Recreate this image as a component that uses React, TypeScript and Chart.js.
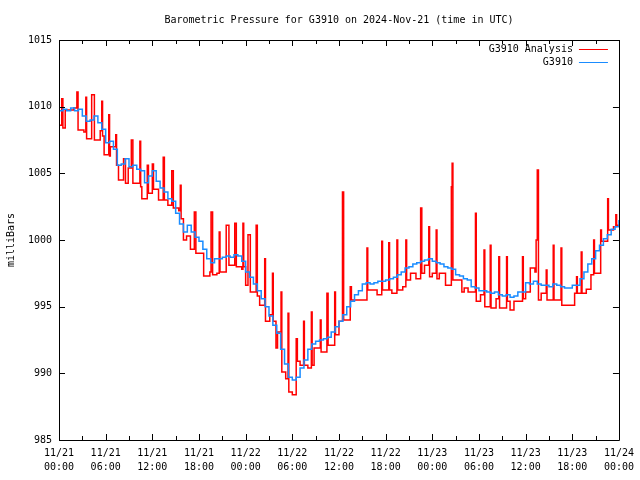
import { useEffect, useRef } from "react";
import { Chart, registerables } from "chart.js";

Chart.register(...registerables);

const TITLE = "Barometric Pressure for G3910 on 2024-Nov-21 (time in UTC)";
const Y_TITLE = "milliBars";
const ANALYSIS_NAME = "G3910 Analysis";
const OBS_NAME = "G3910";

// x axis: hours since 11/21 00:00 UTC
const X_TICK_HOURS = [0, 3, 6, 9, 12, 15, 18, 21, 24, 27, 30, 33, 36, 39, 42, 45, 48, 51, 54, 57, 60, 63, 66, 69, 72];
const X_LABEL_HOURS = [0, 6, 12, 18, 24, 30, 36, 42, 48, 54, 60, 66, 72];
const X_LABEL_DATES = ["11/21", "11/21", "11/21", "11/21", "11/22", "11/22", "11/22", "11/22", "11/23", "11/23", "11/23", "11/23", "11/24"];
const X_LABEL_TIMES = ["00:00", "06:00", "12:00", "18:00", "00:00", "06:00", "12:00", "18:00", "00:00", "06:00", "12:00", "18:00", "00:00"];
const Y_TICKS = [985, 990, 995, 1000, 1005, 1010, 1015];

// Observed pressure (G3910), every half hour from 11/21 00:00
const OBS_STEP_HOURS = 0.5;
const obsValues = [
  1009.7, 1009.8, 1009.7, 1009.9, 1009.7, 1009.8, 1009.3, 1008.9, 1009.0, 1009.3,
  1008.8, 1008.3, 1007.3, 1007.4, 1006.8, 1005.6, 1005.7, 1006.1, 1005.5, 1005.6,
  1005.3, 1005.2, 1004.3, 1004.8, 1005.2, 1004.4, 1003.9, 1003.6, 1003.1, 1002.9,
  1002.0, 1001.2, 1000.6, 1001.1, 1000.6, 1000.2, 999.9, 999.3, 998.6, 998.3,
  998.6, 998.6, 998.7, 998.8, 998.7, 998.9, 998.8, 998.4, 997.6, 997.2,
  996.7, 996.2, 995.6, 995.0, 994.3, 993.6, 993.0, 991.8, 990.7, 989.7,
  989.5, 989.7, 990.4, 991.0, 991.8, 992.2, 992.4, 992.5, 992.6, 992.7,
  993.1, 993.5, 993.9, 994.4, 995.0, 995.4, 995.9, 996.2, 996.7, 996.8,
  996.7, 996.8, 996.9, 996.9, 997.0, 997.1, 997.2, 997.4, 997.6, 997.9,
  998.0, 998.2, 998.3, 998.4, 998.5, 998.6, 998.4, 998.3, 998.2, 998.0,
  997.9, 997.8, 997.4, 997.3, 997.1, 997.0, 996.5, 996.4, 996.2, 996.2,
  996.1, 996.0, 996.1, 995.9, 995.8, 995.9, 995.7, 995.8, 996.1, 996.1,
  996.8, 996.7, 996.9, 996.7, 996.6, 996.6, 996.5, 996.7, 996.6, 996.5,
  996.4, 996.4, 996.6, 996.6, 997.1, 997.6, 998.2, 998.6, 999.2, 999.6,
  1000.1, 1000.4, 1000.8, 1001.0, 1001.5,
];

// Analysis pressure (G3910 Analysis): [hour, millibars], step-wise
const analysisPoints: [number, number][] = [
  [0, 1008.6], [0.35, 1010.6], [0.5, 1008.4], [0.8, 1009.75], [1.9, 1009.9], [2.3, 1011.1], [2.45, 1008.25],
  [3.2, 1008.1], [3.45, 1010.7], [3.55, 1007.6], [4.2, 1010.9], [4.55, 1007.5], [5.3, 1008.2], [5.5, 1010.4],
  [5.6, 1007.8], [5.8, 1006.4], [6.4, 1009.4], [6.5, 1006.3], [6.6, 1007.0], [7.3, 1007.9], [7.4, 1005.6],
  [7.65, 1004.5], [8.3, 1006.1], [8.55, 1004.25], [8.9, 1005.4], [9.3, 1007.5], [9.5, 1004.25], [10.4, 1007.4],
  [10.5, 1004.0], [10.65, 1003.1], [11.35, 1005.6], [11.5, 1003.5],
  [12.0, 1005.7], [12.15, 1003.8], [12.8, 1003.0], [13.4, 1006.2], [13.55, 1003.0], [14.0, 1002.6], [14.5, 1005.2],
  [14.7, 1002.4], [15.4, 1002.2], [15.6, 1004.1], [15.7, 1001.6], [16.0, 1000.0], [16.4, 1000.3], [16.9, 999.3],
  [17.4, 1002.1], [17.6, 999.0], [18.6, 997.3], [19.4, 997.6], [19.55, 1002.1], [19.75, 997.4], [20.3, 997.5],
  [20.6, 1000.6], [20.7, 997.6], [21.5, 1001.1], [21.85, 998.1], [22.6, 1001.25], [22.8, 998.0], [23.5, 997.8],
  [23.65, 1001.25], [23.75, 998.0],
  [24.0, 996.6], [24.3, 1000.4], [24.6, 996.1], [25.35, 1001.1], [25.5, 995.8], [25.8, 995.1], [26.45, 998.6],
  [26.55, 993.9], [27.1, 994.4], [27.45, 997.5], [27.55, 993.9], [27.9, 991.9], [28.1, 993.1], [28.55, 996.1],
  [28.65, 990.1], [29.15, 989.6], [29.45, 994.5], [29.55, 988.6], [30.0, 988.4], [30.5, 992.6], [30.65, 990.9],
  [31.0, 990.6], [31.45, 993.9], [31.55, 990.6], [32.0, 990.4], [32.45, 994.6], [32.55, 990.6], [32.8, 991.9],
  [33.6, 994.0], [33.7, 991.6], [34.45, 996.0], [34.6, 992.1], [35.45, 996.1], [35.55, 992.9], [36.0, 993.9],
  [36.45, 1003.6], [36.6, 994.0], [37.45, 996.5], [37.6, 995.5], [39.6, 999.4], [39.7, 996.25], [40.9, 995.9],
  [41.5, 999.9], [41.6, 996.25], [42.4, 999.8], [42.5, 996.25], [42.8, 996.0], [43.45, 1000.0], [43.55, 996.25],
  [44.2, 996.5], [44.6, 1000.0], [44.7, 997.0], [45.2, 997.5], [45.9, 997.1], [46.5, 1002.4], [46.65, 997.5],
  [47.0, 998.1], [47.55, 1001.0], [47.65, 997.25],
  [48.0, 997.5], [48.5, 1000.75], [48.6, 997.1], [48.9, 997.5], [49.7, 996.6], [50.45, 1004.0], [50.55, 1005.75],
  [50.65, 997.0], [51.8, 996.1], [52.1, 996.4], [52.6, 996.1], [53.55, 1002.0], [53.65, 995.4], [54.2, 995.9],
  [54.65, 999.25], [54.75, 995.0], [55.45, 999.6], [55.55, 994.9], [56.2, 995.6], [56.55, 998.75], [56.65, 994.9],
  [57.55, 998.75], [57.65, 995.4], [58.0, 994.75], [58.5, 995.4], [59.6, 998.75], [59.7, 995.6],
  [60.0, 996.1], [60.6, 997.9], [61.2, 997.6], [61.35, 1000.0], [61.5, 1005.25], [61.65, 995.5], [62.0, 996.0],
  [62.65, 997.75], [62.75, 995.5], [63.55, 999.6], [63.65, 995.5], [64.55, 999.4], [64.65, 995.1], [66.3, 996.0],
  [66.55, 997.25], [66.65, 996.0], [67.15, 999.1], [67.25, 996.0], [67.8, 996.3], [68.4, 997.4], [68.75, 1000.0],
  [68.85, 997.5], [69.65, 1000.75], [69.75, 999.9], [70.55, 1003.1], [70.65, 1000.75], [71.3, 1001.0],
  [71.6, 1001.9], [71.7, 1001.1], [72, 1001.0],
];

const RED = "#ff0000";
const BLUE = "#1a8cff";
const FONT_FAMILY = "'DejaVu Sans Mono', 'Liberation Mono', monospace";
const FONT_SIZE = 10;

const framePlugin = {
  id: "gnuFrame",
  afterDraw(chart: any) {
    const { ctx, chartArea: a, scales } = chart;
    const xs = scales.x;
    const ys = scales.y;
    ctx.save();
    ctx.strokeStyle = "#000";
    ctx.lineWidth = 1;
    ctx.beginPath();
    ctx.rect(Math.round(a.left) + 0.5, Math.round(a.top) + 0.5, Math.round(a.right - a.left), Math.round(a.bottom - a.top));
    ctx.stroke();
    // inward ticks, x
    ctx.beginPath();
    X_TICK_HOURS.forEach((h) => {
      const px = Math.round(xs.getPixelForValue(h)) + 0.5;
      const len = h % 6 === 0 ? 6 : 4;
      ctx.moveTo(px, a.bottom);
      ctx.lineTo(px, a.bottom - len);
      ctx.moveTo(px, a.top);
      ctx.lineTo(px, a.top + len);
    });
    // inward ticks, y (both sides)
    Y_TICKS.forEach((v) => {
      const py = Math.round(ys.getPixelForValue(v)) + 0.5;
      ctx.moveTo(a.left, py);
      ctx.lineTo(a.left + 6, py);
      ctx.moveTo(a.right, py);
      ctx.lineTo(a.right - 6, py);
    });
    ctx.stroke();

    ctx.fillStyle = "#000";
    ctx.font = `${FONT_SIZE}px ${FONT_FAMILY}`;
    // title
    ctx.textAlign = "center";
    ctx.textBaseline = "middle";
    ctx.fillText(TITLE, (a.left + a.right) / 2, 20);
    // y title
    ctx.save();
    ctx.translate(11, (a.top + a.bottom) / 2);
    ctx.rotate(-Math.PI / 2);
    ctx.fillText(Y_TITLE, 0, 0);
    ctx.restore();
    // legend
    const legendRight = a.right - 46;
    const rows: [string, string][] = [[ANALYSIS_NAME, RED], [OBS_NAME, BLUE]];
    rows.forEach(([name, color], i) => {
      const y = a.top + 9 + i * 13;
      ctx.fillStyle = "#000";
      ctx.textAlign = "right";
      ctx.fillText(name, legendRight, y);
      ctx.strokeStyle = color;
      ctx.lineWidth = 1;
      ctx.beginPath();
      ctx.moveTo(legendRight + 6, Math.round(y) + 0.5);
      ctx.lineTo(legendRight + 35, Math.round(y) + 0.5);
      ctx.stroke();
    });
    ctx.restore();
  },
};

export default function App() {
  const ref = useRef<HTMLCanvasElement | null>(null);
  useEffect(() => {
    const canvas = ref.current;
    if (!canvas) return;
    const font = { family: FONT_FAMILY, size: FONT_SIZE, lineHeight: 1.4 };
    const chart = new Chart(canvas, {
      type: "line",
      data: {
        datasets: [
          {
            label: OBS_NAME,
            data: obsValues.map((v, i) => ({ x: i * OBS_STEP_HOURS, y: v })),
            borderColor: BLUE,
            backgroundColor: BLUE,
            borderWidth: 1.5,
            pointRadius: 0,
            stepped: true,
            fill: false,
          },
          {
            label: ANALYSIS_NAME,
            data: analysisPoints.map(([x, y]) => ({ x, y })),
            borderColor: RED,
            backgroundColor: RED,
            borderWidth: 1.5,
            pointRadius: 0,
            stepped: true,
            fill: false,
          },
        ],
      },
      options: {
        animation: false,
        responsive: false,
        maintainAspectRatio: false,
        layout: { padding: { top: 40, right: 19, left: 0, bottom: 0 } },
        plugins: {
          legend: { display: false },
          tooltip: { enabled: false },
          title: { display: false },
        },
        scales: {
          x: {
            type: "linear",
            min: 0,
            max: 72,
            afterBuildTicks: (s: any) => {
              s.ticks = X_LABEL_HOURS.map((v) => ({ value: v }));
            },
            afterFit: (s: any) => {
              s.height = 40;
            },
            ticks: {
              autoSkip: false,
              maxRotation: 0,
              minRotation: 0,
              padding: 6,
              color: "#000",
              font,
              callback: (v: any) => {
                const i = X_LABEL_HOURS.indexOf(Number(v));
                return i >= 0 ? [X_LABEL_DATES[i], X_LABEL_TIMES[i]] : "";
              },
            },
            grid: { display: false, drawTicks: false },
            border: { display: false },
          },
          y: {
            min: 985,
            max: 1015,
            afterBuildTicks: (s: any) => {
              s.ticks = Y_TICKS.map((v) => ({ value: v }));
            },
            afterFit: (s: any) => {
              s.width = 59;
            },
            ticks: {
              padding: 7,
              color: "#000",
              font: { family: FONT_FAMILY, size: FONT_SIZE },
              callback: (v: any) => String(v),
            },
            grid: { display: false, drawTicks: false },
            border: { display: false },
          },
        },
      },
      plugins: [framePlugin],
    } as any);
    return () => chart.destroy();
  }, []);
  return (
    <div style={{ position: "fixed", left: 0, top: 0, width: 640, height: 480, background: "#fff" }}>
      <canvas ref={ref} width={640} height={480} style={{ width: 640, height: 480, display: "block" }} />
    </div>
  );
}
